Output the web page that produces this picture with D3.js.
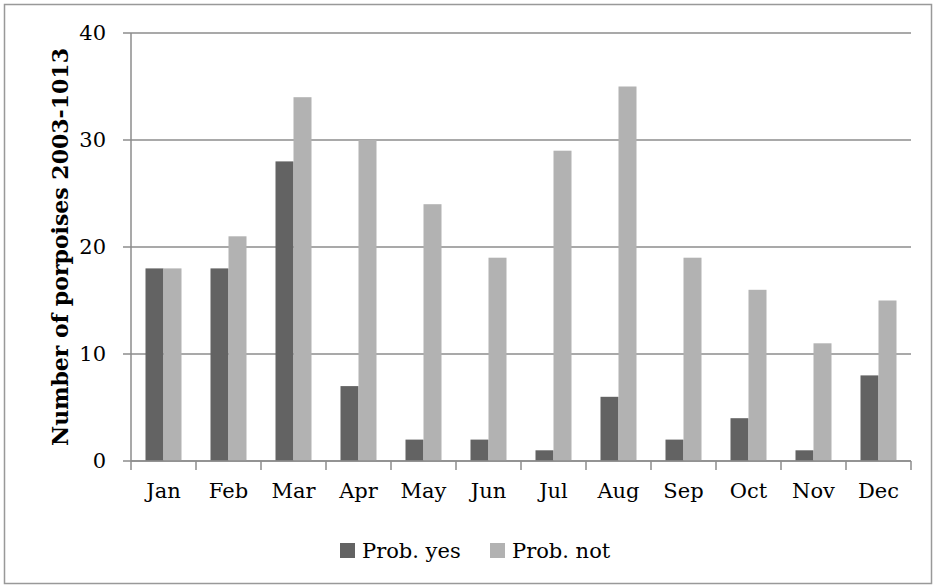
<!DOCTYPE html>
<html><head><meta charset="utf-8">
<script src="https://cdn.jsdelivr.net/npm/d3@7"></script>
<style>body{margin:0;background:#fff}svg{display:block}</style>
</head><body>
<script>
const months = ["Jan","Feb","Mar","Apr","May","Jun","Jul","Aug","Sep","Oct","Nov","Dec"];
const probYes = [18,18,28,7,2,2,1,6,2,4,1,8];
const probNot = [18,21,34,30,24,19,29,35,19,16,11,15];
const seriesNames = ["Prob. yes","Prob. not"];
const colors = ["#636363","#b2b2b2"];
const yTicks = [0,10,20,30,40];

const W=936,H=588;
const svg=d3.select("body").append("svg").attr("width",W).attr("height",H);
const font="'DejaVu Serif', serif";
svg.append("rect").attr("x",4.5).attr("y",4.5).attr("width",927).attr("height",579)
  .attr("fill","#fff").attr("stroke","#999").attr("stroke-width",1.5);

const L=131,R=911,T=33,B=461;
const x=d3.scaleBand().domain(months).range([L,R]);
const y=d3.scaleLinear().domain([0,40]).range([B,T]);
const barW=18;

// gridlines
svg.append("g").selectAll("line").data(yTicks).join("line")
  .attr("x1",L-8).attr("x2",R).attr("y1",d=>y(d)).attr("y2",d=>y(d))
  .attr("stroke","#8c8c8c").attr("stroke-width",1.5);
// y-axis
svg.append("line").attr("x1",L).attr("x2",L).attr("y1",T).attr("y2",B).attr("stroke","#8c8c8c").attr("stroke-width",1.5);
svg.append("g").selectAll("text").data(yTicks).join("text")
  .attr("x",L-25).attr("y",d=>y(d)).attr("dy","0.35em").attr("text-anchor","end")
  .attr("font-family",font).attr("font-size",21).attr("fill","#000").text(d=>d);

// bars
const data=[probYes,probNot];
data.forEach((arr,si)=>{
  svg.append("g").selectAll("rect").data(arr).join("rect")
    .attr("x",(d,i)=>x(months[i])+x.bandwidth()/2-barW+si*barW)
    .attr("y",d=>y(d)).attr("width",barW).attr("height",d=>B-y(d)).attr("fill",colors[si]);
});

// x axis
svg.append("line").attr("x1",L).attr("x2",R).attr("y1",B).attr("y2",B).attr("stroke","#8c8c8c").attr("stroke-width",1.5);
const xt=d3.range(13).map(i=>L+i*x.step());
svg.append("g").selectAll("line").data(xt).join("line")
  .attr("x1",d=>d).attr("x2",d=>d).attr("y1",B).attr("y2",B+9).attr("stroke","#8c8c8c").attr("stroke-width",1.5);
svg.append("g").selectAll("text").data(months).join("text")
  .attr("x",d=>x(d)+x.bandwidth()/2).attr("y",B+37).attr("text-anchor","middle")
  .attr("font-family",font).attr("font-size",21).attr("fill","#000").text(d=>d);

// y label
svg.append("text").attr("transform",`translate(60,${(T+B)/2}) rotate(-90)`).attr("text-anchor","middle")
  .attr("dy","0.35em")
  .attr("font-family",font).attr("font-weight","bold").attr("font-size",22).attr("fill","#000")
  .text("Number of porpoises 2003-1013");

// legend
const lx=[340,490];
seriesNames.forEach((n,i)=>{
  svg.append("rect").attr("x",lx[i]).attr("y",543).attr("width",15).attr("height",15).attr("fill",colors[i]);
  svg.append("text").attr("x",lx[i]+22).attr("y",550.5).attr("dy","0.35em")
    .attr("font-family",font).attr("font-size",21).attr("fill","#000").text(n);
});
</script>
</body></html>
